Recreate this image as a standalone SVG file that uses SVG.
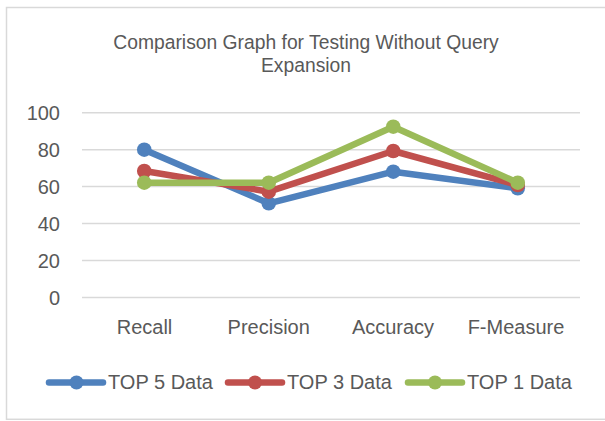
<svg xmlns="http://www.w3.org/2000/svg" width="605" height="421" viewBox="0 0 605 421">
<style>
text{font-family:"Liberation Sans",Arial,sans-serif;fill:#595959}
.t{font-size:19.3px;text-anchor:middle}
.ax{font-size:20px;text-anchor:end}
.cat{font-size:20px;text-anchor:middle}
.lg{font-size:20px}
.grid line{stroke:#D9D9D9;stroke-width:1.5}
.s{fill:none;stroke-width:6.5;stroke-linejoin:round;stroke-linecap:round}
.b{stroke:#4F81BD}.bf{fill:#4F81BD}
.r{stroke:#C0504D}.rf{fill:#C0504D}
.g{stroke:#9BBB59}.gf{fill:#9BBB59}
</style>
<rect x="0" y="0" width="605" height="421" fill="#fff"/>
<rect x="6.5" y="7.5" width="602" height="411.8" fill="#fff" stroke="#D9D9D9" stroke-width="1.5"/>
<g id="title">
<text class="t" x="306" y="49.3">Comparison Graph for Testing Without Query</text>
<text class="t" x="306" y="71.7">Expansion</text>
</g>
<g id="grid" class="grid">
<line x1="82" y1="112.7" x2="580" y2="112.7"/>
<line x1="82" y1="149.7" x2="580" y2="149.7"/>
<line x1="82" y1="186.6" x2="580" y2="186.6"/>
<line x1="82" y1="223.6" x2="580" y2="223.6"/>
<line x1="82" y1="260.5" x2="580" y2="260.5"/>
<line x1="82" y1="297.5" x2="580" y2="297.5"/>
</g>
<g id="y-axis">
<text class="ax" x="60" y="120.2">100</text>
<text class="ax" x="60" y="157.2">80</text>
<text class="ax" x="60" y="194.1">60</text>
<text class="ax" x="60" y="231.1">40</text>
<text class="ax" x="60" y="268">20</text>
<text class="ax" x="60" y="305">0</text>
</g>
<g id="x-axis">
<text class="cat" x="144.5" y="334">Recall</text>
<text class="cat" x="268.7" y="334">Precision</text>
<text class="cat" x="393" y="334">Accuracy</text>
<text class="cat" x="516" y="334">F-Measure</text>
</g>
<g id="connectors">
<polyline class="s b" points="144.25,149.7 268.75,203.3 393.25,171.7 517.75,188.3"/>
<g class="bf"><circle cx="144.25" cy="149.7" r="7.3"/><circle cx="268.75" cy="203.3" r="7.3"/><circle cx="393.25" cy="171.7" r="7.3"/><circle cx="517.75" cy="188.3" r="7.3"/></g>
<polyline class="s r" points="144.25,171 268.75,191.7 393.25,151 517.75,185"/>
<g class="rf"><circle cx="144.25" cy="171" r="7.3"/><circle cx="268.75" cy="191.7" r="7.3"/><circle cx="393.25" cy="151" r="7.3"/><circle cx="517.75" cy="185" r="7.3"/></g>
<polyline class="s g" points="144.25,182.7 268.75,182.7 393.25,126.7 517.75,182.7"/>
<g class="gf"><circle cx="144.25" cy="182.7" r="7.3"/><circle cx="268.75" cy="182.7" r="7.3"/><circle cx="393.25" cy="126.7" r="7.3"/><circle cx="517.75" cy="182.7" r="7.3"/></g>
</g>
<g id="legend">
<g id="legend-top5">
<line class="s b" x1="49" y1="382.5" x2="103" y2="382.5" stroke-width="5.5"/>
<circle class="bf" cx="76.5" cy="382.5" r="7"/>
<text class="lg" x="108" y="388.5">TOP 5 Data</text>
</g>
<g id="legend-top3">
<line class="s r" x1="228" y1="382.5" x2="282" y2="382.5" stroke-width="5.5"/>
<circle class="rf" cx="255" cy="382.5" r="7"/>
<text class="lg" x="287" y="388.5">TOP 3 Data</text>
</g>
<g id="legend-top1">
<line class="s g" x1="408" y1="382.5" x2="462" y2="382.5" stroke-width="5.5"/>
<circle class="gf" cx="435" cy="382.5" r="7"/>
<text class="lg" x="467" y="388.5">TOP 1 Data</text>
</g>
</g>
</svg>
